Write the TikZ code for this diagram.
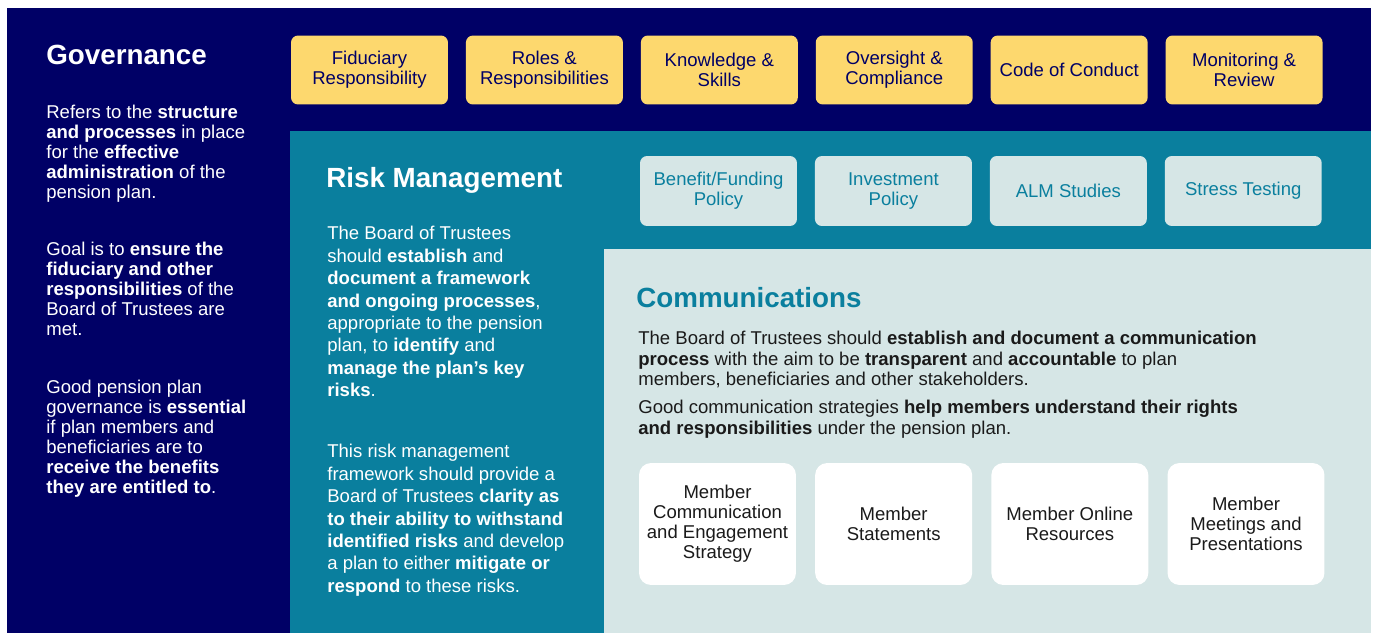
\documentclass[tikz,border=0pt]{standalone}
\usepackage{fontspec}
\setmainfont{Liberation Sans}
\usetikzlibrary{positioning}

\definecolor{navy}{HTML}{000066}
\definecolor{riskteal}{HTML}{0A7F9E}
\definecolor{commsbg}{HTML}{D6E6E6}
\definecolor{gold}{HTML}{FDD86E}
\definecolor{ink}{HTML}{1A1A1A}

\newcommand{\boxfont}{\fontsize{10.55}{11.34}\selectfont}
\newcommand{\titlefont}{\fontsize{15.8}{19}\selectfont\bfseries}

\begin{document}
\begin{tikzpicture}[
    x=0.02cm, y=-0.02cm,
    node distance=0.345cm,
    heading/.style={
        anchor=north west,
        inner sep=0pt,
        font=\titlefont
    },
    para/.style={
        anchor=north west,
        inner sep=0pt,
        align=left,
        font=\boxfont
    },
    topic/.style={
        rectangle,
        rounded corners=0.14cm,
        fill=gold,
        text=navy,
        minimum width=3.14cm,
        minimum height=1.38cm,
        align=center,
        font=\boxfont
    },
    policy/.style={
        topic,
        fill=commsbg,
        text=riskteal,
        minimum height=1.4cm
    },
    member/.style={
        topic,
        node distance=0.37cm,
        rounded corners=0.24cm,
        fill=white,
        text=ink,
        minimum height=2.44cm
    }
]

\useasboundingbox (0,0) rectangle (1374,633);
\fill[white] (0,0) rectangle (1374,633);

% the three nested areas
\fill[navy] (7,8) rectangle (1371,633);
\fill[riskteal] (290,131) rectangle (1371,633);
\fill[commsbg] (604,249) rectangle (1371,633);

% governance
\node[heading, text=white] (govtitle) at (46,45) {Governance};
\node[para, text=white] (govdef) at (46,105) {Refers to the \textbf{structure}\\
    \textbf{and processes} in place\\
    for the \textbf{effective}\\
    \textbf{administration} of the\\
    pension plan.};
\node[para, text=white] (govgoal) at (46,242) {Goal is to \textbf{ensure the}\\
    \textbf{fiduciary and other}\\
    \textbf{responsibilities} of the\\
    Board of Trustees are\\
    met.};
\node[para, text=white] (govwhy) at (46,380) {Good pension plan\\
    governance is \textbf{essential}\\
    if plan members and\\
    beneficiaries are to\\
    \textbf{receive the benefits}\\
    \textbf{they are entitled to}.};

\node[topic] (fiduciary) at (369.5,70) {Fiduciary\\Responsibility};
\node[topic] (roles) [right=of fiduciary] {Roles \&\\Responsibilities};
\node[topic] (skills) [right=of roles] {Knowledge \&\\Skills};
\node[topic] (oversight) [right=of skills] {Oversight \&\\Compliance};
\node[topic] (conduct) [right=of oversight] {Code of Conduct};
\node[topic] (review) [right=of conduct] {Monitoring \&\\Review};

% risk management
\node[heading, text=white] (risktitle) at (326,167) {Risk Management};
\node[para, text=white, font=\fontsize{10.55}{12.76}\selectfont] (riskdef) at (327,226) {The Board of Trustees\\
    should \textbf{establish} and\\
    \textbf{document a framework}\\
    \textbf{and ongoing processes},\\
    appropriate to the pension\\
    plan, to \textbf{identify} and\\
    \textbf{manage the plan's key}\\
    \textbf{risks}.};
\node[para, text=white, font=\fontsize{10.55}{12.76}\selectfont] (riskaim) at (327,444) {This risk management\\
    framework should provide a\\
    Board of Trustees \textbf{clarity as}\\
    \textbf{to their ability to withstand}\\
    \textbf{identified risks} and develop\\
    a plan to either \textbf{mitigate or}\\
    \textbf{respond} to these risks.};

\node[policy] (funding) at (718.5,191) {Benefit/Funding\\Policy};
\node[policy] (investment) [right=of funding] {Investment\\Policy};
\node[policy] (alm) [right=of investment] {ALM Studies};
\node[policy] (stress) [right=of alm] {Stress Testing};

% communications
\node[heading, text=riskteal] (commstitle) at (636,287) {Communications};
\node[para, text=ink, font=\fontsize{10.55}{11.57}\selectfont] (commsdef) at (638,331) {The Board of Trustees should \textbf{establish and document a communication}\\
    \textbf{process} with the aim to be \textbf{transparent} and \textbf{accountable} to plan\\
    members, beneficiaries and other stakeholders.};
\node[para, text=ink, font=\fontsize{10.55}{11.57}\selectfont] (commsgoal) at (638,400) {Good communication strategies \textbf{help members understand their rights}\\
    \textbf{and responsibilities} under the pension plan.};

\node[member] (strategy) at (717.5,524) {Member\\Communication\\and Engagement\\Strategy};
\node[member] (statements) [right=of strategy] {Member\\Statements};
\node[member] (online) [right=of statements] {Member Online\\Resources};
\node[member] (meetings) [right=of online] {Member\\Meetings and\\Presentations};

\end{tikzpicture}
\end{document}
